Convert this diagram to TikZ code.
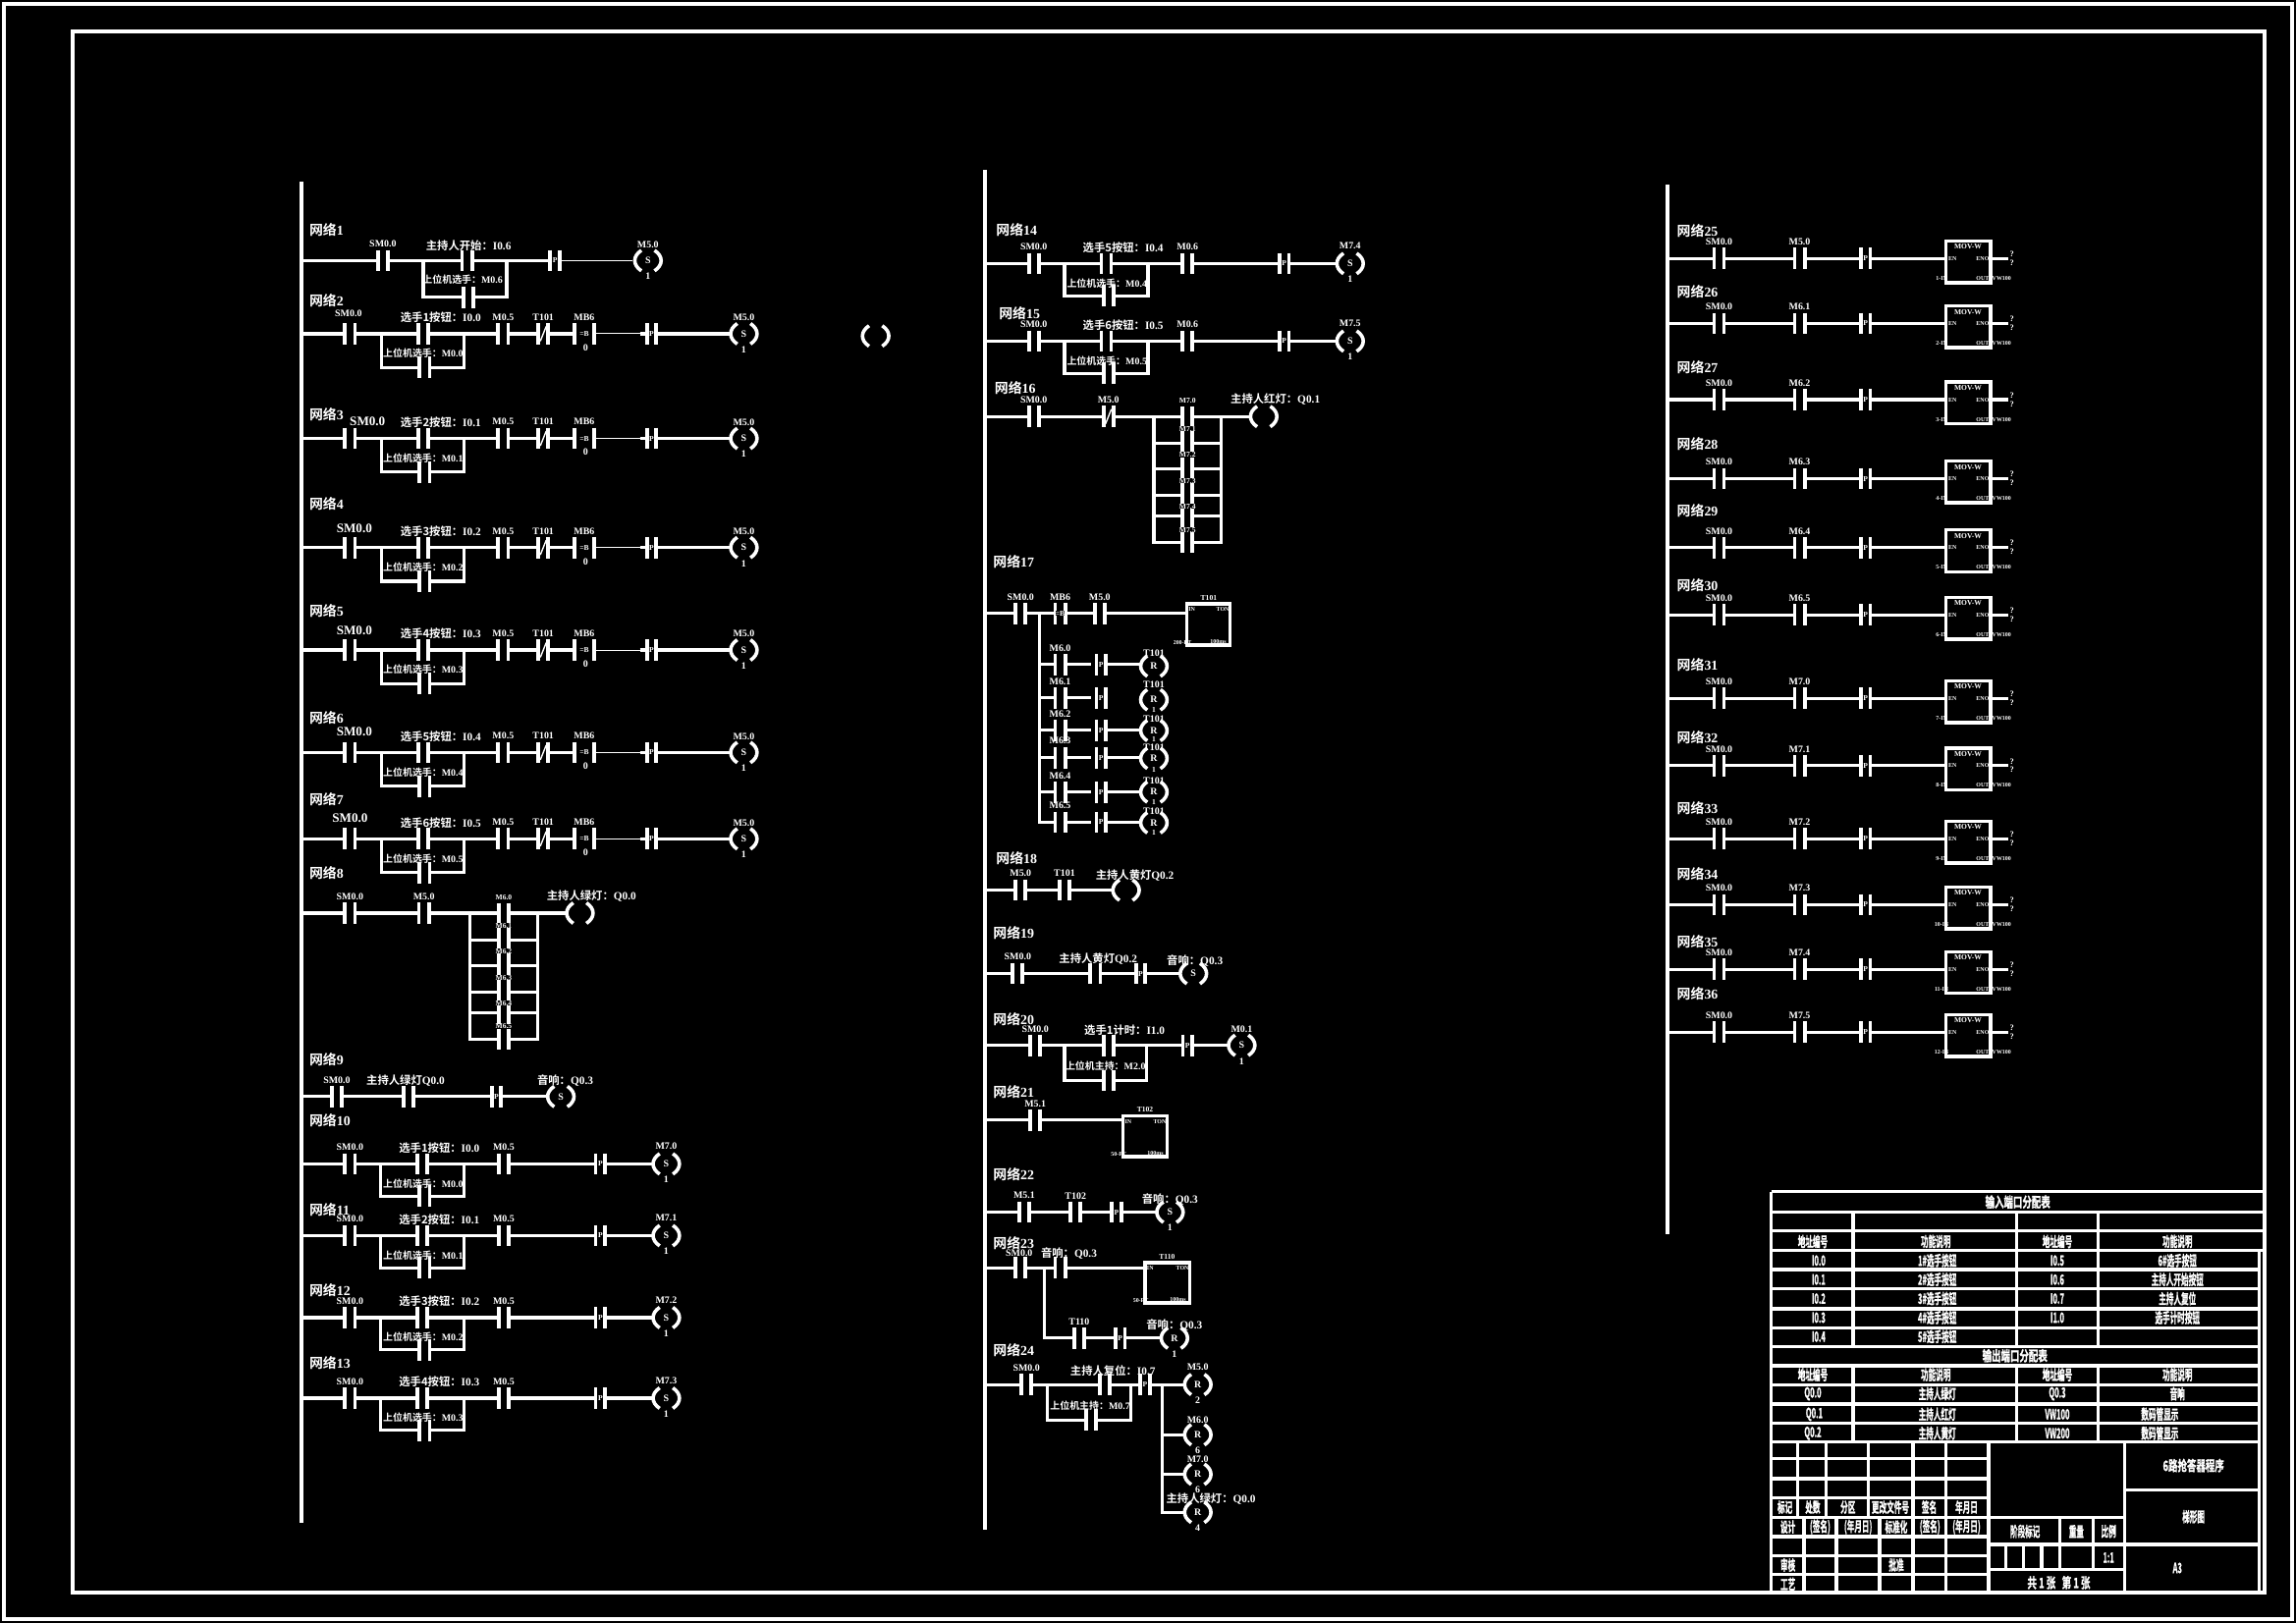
\documentclass[tikz,border=0pt]{standalone}
\usepackage{graphicx}
\usepackage{fontspec}
\setmainfont{Liberation Serif}
\newfontfamily\cjk{Noto Sans CJK SC}[BoldFont=* Bold]
\newfontfamily\tblfont{Noto Sans CJK SC Bold}[FakeBold=1.5]
\usetikzlibrary{calc, positioning}

\newcounter{lblno}
\newcommand{\zh}[1]{{\cjk #1}}
\tikzset{
	railline/.style={white, line width=2pt},
	wire/.style={white, line width=1.6pt},
	thinwire/.style={white, line width=0.5pt},
	bar/.style={white, line width=1.9pt},
	coilarc/.style={white, line width=1.8pt},
	frameline/.style={white, line width=2pt},
	tblline/.style={white, line width=1.7pt},
	lbltext/.style={white, inner sep=0pt, font=\fontsize{5}{6}\bfseries\selectfont},
	toptext/.style={white, inner sep=0pt, font=\fontsize{5.7}{6}\bfseries\selectfont},
	bigtext/.style={white, inner sep=0pt, font=\fontsize{6.6}{8}\bfseries\selectfont},
	titletext/.style={white, inner sep=0pt, anchor=west, font=\fontsize{7}{8}\bfseries\selectfont},
	smalltext/.style={white, fill=black, inner sep=0pt, font=\fontsize{3.8}{4}\bfseries\selectfont},
	tinytext/.style={white, inner sep=0pt, font=\fontsize{3}{3.5}\bfseries\selectfont},
	stacktext/.style={white, inner sep=0pt, align=center, font=\fontsize{4.2}{4.4}\bfseries\selectfont},
	tbltext/.style={white, inner sep=0pt, font=\fontsize{7.2}{8}\selectfont},
}

% text nodes
\newcommand{\lbl}[3]{\stepcounter{lblno}\node[lbltext] (lbl\arabic{lblno}) at (#1,#2) {#3};}
\newcommand{\toplbl}[3]{\stepcounter{lblno}\node[toptext] (lbl\arabic{lblno}) at (#1,#2) {#3};}
\newcommand{\biglbl}[3]{\stepcounter{lblno}\node[bigtext] (lbl\arabic{lblno}) at (#1,#2) {#3};}
\newcommand{\tinylbl}[3]{\stepcounter{lblno}\node[tinytext] (lbl\arabic{lblno}) at (#1,#2) {#3};}
\newcommand{\smalllbl}[3]{\stepcounter{lblno}\node[smalltext] (lbl\arabic{lblno}) at (#1,#2) {#3};}
\newcommand{\nettitle}[3]{\stepcounter{lblno}\node[titletext] (net#3) at (#1,#2) {\zh{网络}#3};}
\newcommand{\tbl}[3]{\stepcounter{lblno}\node[tbltext] (lbl\arabic{lblno}) at (#1,#2) {\tblfont\scalebox{0.53}[1]{#3}};}
\newcommand{\tblw}[3]{\stepcounter{lblno}\node[tbltext] (lbl\arabic{lblno}) at (#1,#2) {\tblfont\scalebox{0.66}[1]{#3}};}

% contacts, drawn after the wires
\newcommand{\bars}[3]{%
	\fill[black] (#1-#3,#2-1.5) rectangle (#1+#3,#2+1.5);
	\draw[bar] (#1-#3,#2-7.3) -- (#1-#3,#2+7.3);
	\draw[bar] (#1+#3,#2-7.3) -- (#1+#3,#2+7.3);}
\newcommand{\ct}[3]{\bars{#1}{#2}{3.4}\lbl{#1}{#2-11.3}{#3}}
\newcommand{\ctn}[2]{\bars{#1}{#2}{3.4}}
\newcommand{\pct}[2]{\bars{#1}{#2}{3.2}\smalllbl{#1}{#2}{P}}
\newcommand{\slct}[3]{\bars{#1}{#2}{3.4}\draw[white, line width=0.7pt] (#1-2,#2+5) -- (#1+2,#2-5);\lbl{#1}{#2-11.3}{#3}}
\newcommand{\eqct}[4]{\bars{#1}{#2}{#3}\smalllbl{#1}{#2}{=B}\lbl{#1}{#2-11.3}{#4}}

% coil: x, y, letter, count
\newcommand{\coil}[4]{%
	\stepcounter{lblno}
	\fill[black] (#1-8,#2-2) rectangle (#1+8,#2+2);
	\draw[coilarc] (#1-4.5,#2-7) .. controls (#1-10.5,#2-3) and (#1-10.5,#2+3) .. (#1-4.5,#2+7);
	\draw[coilarc] (#1+4.5,#2-7) .. controls (#1+10.5,#2-3) and (#1+10.5,#2+3) .. (#1+4.5,#2+7);
	\node[lbltext] (lbl\arabic{lblno}) at (#1,#2) {#3};
	\lbl{#1}{#2+10.8}{#4}}

% network 2 to 7: y, top text, low text
\newcommand{\selnetA}[3]{%
	\draw[wire] (206,#1) -- (392,#1);
	\draw[thinwire] (392,#1) -- (437,#1);
	\draw[wire] (437,#1) -- (498,#1);
	\draw[wire] (260.5,#1) -- (260.5,#1+23) -- (317,#1+23) -- (317,#1);
	\ctn{239}{#1}
	\ctn{289}{#1}
	\ctn{290}{#1+23}
	\toplbl{301}{#1-11}{#2}
	\lbl{289}{#1+13.5}{#3}
	\ct{343.6}{#1}{M0.5}
	\slct{371}{#1}{T101}
	\eqct{399}{#1}{6.5}{MB6}
	\lbl{400}{#1+9.5}{0}
	\pct{445}{#1}
	\coil{508}{#1}{S}{1}
	\lbl{508}{#1-11}{M5.0}}

% network 10 to 15: dx, y, top text, low text, middle contact, coil label
\newcommand{\selnetB}[6]{%
	\draw[wire] (206+#1,#2) -- (446+#1,#2);
	\draw[wire] (260+#1,#2) -- (260+#1,#2+22) -- (317+#1,#2+22) -- (317+#1,#2);
	\ct{239+#1}{#2}{SM0.0}
	\ctn{288.5+#1}{#2}
	\ctn{290+#1}{#2+22}
	\toplbl{300+#1}{#2-11}{#3}
	\lbl{289+#1}{#2+13.5}{#4}
	\ct{344+#1}{#2}{#5}
	\pct{410+#1}{#2}
	\coil{455+#1}{#2}{S}{1}
	\lbl{455+#1}{#2-12}{#6}}

% network 8 and 16: dx, y, rows prefix, coil text
\newcommand{\ladder}[4]{%
	\draw[wire] (206+#1,#2) -- (387+#1,#2);
	\draw[wire] (321+#1,#2) -- (321+#1,#2+86) -- (340.6+#1,#2+86);
	\draw[wire] (367+#1,#2) -- (367+#1,#2+86) -- (347.4+#1,#2+86);
	\foreach \rowy in {18.5,36,54,68} {
		\draw[wire] (321+#1,#2+\rowy) -- (340.6+#1,#2+\rowy);
		\draw[wire] (367+#1,#2+\rowy) -- (347.4+#1,#2+\rowy);
	}
	\ct{239+#1}{#2}{SM0.0}
	\fill[black] (340.6+#1,#2-1.5) rectangle (347.4+#1,#2+1.5);
	\draw[bar] (340.6+#1,#2-7) -- (340.6+#1,#2+93);
	\draw[bar] (347.4+#1,#2-7) -- (347.4+#1,#2+93);
	\smalllbl{344+#1}{#2-11}{#3.0}
	\smalllbl{344+#1}{#2+8.5}{#3.1}
	\smalllbl{344+#1}{#2+26}{#3.2}
	\smalllbl{344+#1}{#2+44}{#3.3}
	\smalllbl{344+#1}{#2+61.5}{#3.4}
	\smalllbl{344+#1}{#2+77.5}{#3.5}
	\coil{396+#1}{#2}{}{}
	\toplbl{404+#1}{#2-11.5}{#4}}

% timer box: left, top, right, bottom, name, preset
\newcommand{\tonbox}[6]{%
	\draw[tblline, fill=black] (#1,#2) rectangle (#3,#4);
	\tinylbl{#1+3.5}{#2+4}{IN}
	\tinylbl{#3-5}{#2+4}{TON}
	\tinylbl{#1-3}{#4-1.5}{#6}
	\tinylbl{#3-8}{#4-2.5}{100ms}
	\smalllbl{#1+15}{#2-4}{#5}}

% network 25 to 36: y, contact, number
\newcommand{\movnet}[3]{%
	\draw[wire] (1139,#1) -- (1329,#1);
	\ct{1174}{#1}{SM0.0}
	\ct{1229}{#1}{#2}
	\pct{1274}{#1}
	\draw[tblline, fill=black] (1329,#1-12) rectangle (1359.5,#1+16.5);
	\smalllbl{1344}{#1-8}{MOV-W}
	\tinylbl{1333.5}{#1}{EN}
	\tinylbl{1354}{#1}{ENO}
	\tinylbl{1326}{#1+13.5}{#3-IN}
	\tinylbl{1354}{#1+13.5}{OUT}
	\tinylbl{1367}{#1+13.5}{VW100}
	\draw[wire] (1359.5,#1) -- (1371.5,#1);
	\stepcounter{lblno}
	\node[stacktext] (lbl\arabic{lblno}) at (1374,#1) {?\\?};}

\begin{document}
\begin{tikzpicture}[x=0.75pt,y=0.75pt,yscale=-1,xscale=1]
	\useasboundingbox (0,0) rectangle (1568,1108.6);
	\fill[black] (0,0) rectangle (1568,1108.6);

	% frames
	\draw[frameline] (2.8,2.8) rectangle (1565.3,1105.8);
	\draw[frameline] (49.6,21.5) rectangle (1546.5,1087.5);

	% power rails
	\draw[railline] (206,124) -- (206,1040);
	\draw[railline] (672.5,116) -- (672.5,1045);
	\draw[railline] (1139,126) -- (1139,843);

	% network 1
	\nettitle{211}{157}{1}
	\draw[wire] (206,178) -- (376,178);
	\draw[thinwire] (376,178) -- (432,178);
	\draw[wire] (289,178) -- (289,203) -- (346,203) -- (346,178);
	\ct{261.5}{178}{SM0.0}
	\ctn{319}{178}
	\toplbl{320}{168}{\zh{主持人开始：}I0.6}
	\ctn{320}{203}
	\lbl{316}{191}{\zh{上位机选手：}M0.6}
	\pct{379}{178}
	\coil{442.5}{178}{S}{1}
	\lbl{442.5}{167}{M5.0}

	% network 2 to 7
	\nettitle{211}{205}{2}
	\selnetA{228}{\zh{选手1按钮：}I0.0}{\zh{上位机选手：}M0.0}
	\lbl{238}{214}{SM0.0}
	\nettitle{211}{283}{3}
	\selnetA{299.5}{\zh{选手2按钮：}I0.1}{\zh{上位机选手：}M0.1}
	\biglbl{251}{288}{SM0.0}
	\nettitle{211}{344}{4}
	\selnetA{374}{\zh{选手3按钮：}I0.2}{\zh{上位机选手：}M0.2}
	\biglbl{242}{361}{SM0.0}
	\nettitle{211}{417}{5}
	\selnetA{444}{\zh{选手4按钮：}I0.3}{\zh{上位机选手：}M0.3}
	\biglbl{242}{431}{SM0.0}
	\nettitle{211}{490}{6}
	\selnetA{514}{\zh{选手5按钮：}I0.4}{\zh{上位机选手：}M0.4}
	\biglbl{242}{500}{SM0.0}
	\nettitle{211}{546}{7}
	\selnetA{573}{\zh{选手6按钮：}I0.5}{\zh{上位机选手：}M0.5}
	\biglbl{239}{559}{SM0.0}

	% lone coil
	\coil{598}{229.5}{}{}

	% network 8
	\nettitle{211}{596}{8}
	\ladder{0}{623.7}{M6}{\zh{主持人绿灯：}Q0.0}
	\ct{289.5}{623.7}{M5.0}

	% network 9
	\nettitle{211}{724}{9}
	\draw[wire] (206,749) -- (374,749);
	\ct{230}{749}{SM0.0}
	\ctn{279}{749}
	\toplbl{277}{738}{\zh{主持人绿灯}Q0.0}
	\pct{339}{749}
	\coil{383}{749}{S}{}
	\toplbl{386}{738}{\zh{音响：}Q0.3}

	% network 10 to 13
	\nettitle{211}{765}{10}
	\selnetB{0}{795}{\zh{选手1按钮：}I0.0}{\zh{上位机选手：}M0.0}{M0.5}{M7.0}
	\nettitle{211}{826}{11}
	\selnetB{0}{844}{\zh{选手2按钮：}I0.1}{\zh{上位机选手：}M0.1}{M0.5}{M7.1}
	\nettitle{211}{881}{12}
	\selnetB{0}{900}{\zh{选手3按钮：}I0.2}{\zh{上位机选手：}M0.2}{M0.5}{M7.2}
	\nettitle{211}{931}{13}
	\selnetB{0}{955}{\zh{选手4按钮：}I0.3}{\zh{上位机选手：}M0.3}{M0.5}{M7.3}

	% network 14 and 15
	\nettitle{680}{157}{14}
	\selnetB{467}{180}{\zh{选手5按钮：}I0.4}{\zh{上位机选手：}M0.4}{M0.6}{M7.4}
	\nettitle{682}{214}{15}
	\selnetB{467}{233}{\zh{选手6按钮：}I0.5}{\zh{上位机选手：}M0.5}{M0.6}{M7.5}

	% network 16
	\nettitle{679}{265}{16}
	\ladder{467}{284.5}{M7}{\zh{主持人红灯：}Q0.1}
	\slct{757}{284.5}{M5.0}

	% network 17
	\nettitle{678}{384}{17}
	\draw[wire] (672.5,419) -- (810,419);
	\draw[wire] (710,419) -- (710,561.6) -- (720,561.6);
	\ct{697}{419}{SM0.0}
	\eqct{724}{419}{3.4}{MB6}
	\ct{751}{419}{M5.0}
	\tonbox{810.5}{412.5}{840}{440.5}{T101}{200-PT}
	\foreach \rowy/\rowno in {453.8/0,476.6/1,498.8/2,517.5/3,541/4,561.6/5} {
		\draw[wire] (710,\rowy) -- (745,\rowy);
		\ct{724}{\rowy}{M6.\rowno}
		\pct{752}{\rowy}
	}
	\foreach \rowy in {453.8,498.8,517.5,541,561.6} {
		\draw[wire] (755,\rowy) -- (780,\rowy);
	}
	\coil{788}{455}{R}{}
	\foreach \rowy/\county in {478/485,499/505,518/526,541/548,562/569} {
		\coil{788}{\rowy}{R}{}
		\smalllbl{788}{\county}{1}
	}
	\foreach \rowy in {446,467.8,490.8,510.5,533.5,554} {
		\lbl{788}{\rowy}{T101}
	}

	% network 18
	\nettitle{680}{586}{18}
	\draw[wire] (672.5,608) -- (761,608);
	\ct{697}{608}{M5.0}
	\ct{727}{608}{T101}
	\coil{769}{608}{}{}
	\toplbl{775}{598}{\zh{主持人黄灯}Q0.2}

	% network 19
	\nettitle{678}{637}{19}
	\draw[wire] (672.5,665) -- (806,665);
	\ct{695}{665}{SM0.0}
	\ctn{748}{665}
	\toplbl{750}{655}{\zh{主持人黄灯}Q0.2}
	\pct{779}{665}
	\coil{815}{665}{S}{}
	\toplbl{816}{656}{\zh{音响：}Q0.3}

	% network 20
	\nettitle{678}{696}{20}
	\draw[wire] (672.5,714) -- (839,714);
	\draw[wire] (727,714) -- (727,738) -- (783,738) -- (783,714);
	\ct{707}{714}{SM0.0}
	\ctn{757}{714}
	\toplbl{768}{704}{\zh{选手1计时：}I1.0}
	\ctn{757}{738}
	\lbl{755}{728}{\zh{上位机主持：}M2.0}
	\pct{811}{714}
	\coil{848}{714}{S}{1}
	\lbl{848}{703}{M0.1}

	% network 21
	\nettitle{678}{746}{21}
	\draw[wire] (672.5,765) -- (767,765);
	\ct{707}{765}{M5.1}
	\tonbox{767}{762}{797}{790}{T102}{50-PT}

	% network 22
	\nettitle{678}{802}{22}
	\draw[wire] (672.5,828) -- (790,828);
	\ct{699.5}{828}{M5.1}
	\ct{734.5}{828}{T102}
	\pct{762.5}{828}
	\coil{799}{828}{S}{1}
	\toplbl{799}{819}{\zh{音响：}Q0.3}

	% network 23
	\nettitle{678}{849}{23}
	\draw[wire] (672.5,866) -- (782,866);
	\draw[wire] (713,866) -- (713,914) -- (793,914);
	\ctn{697}{866}
	\lbl{696}{856}{SM0.0}
	\ctn{724}{866}
	\toplbl{730}{856}{\zh{音响：}Q0.3}
	\tonbox{782}{862.5}{812.5}{890}{T110}{50-PT}
	\ct{737}{914}{T110}
	\pct{765}{914}
	\coil{802}{914}{R}{1}
	\toplbl{802}{905}{\zh{音响：}Q0.3}

	% network 24
	\nettitle{678}{922}{24}
	\draw[wire] (672.5,945.7) -- (809,945.7);
	\draw[wire] (715,945.7) -- (715,970) -- (772.5,970) -- (772.5,945.7);
	\draw[wire] (793.5,945.7) -- (793.5,1033) -- (809,1033);
	\draw[wire] (793.5,980) -- (809,980);
	\draw[wire] (793.5,1007) -- (809,1007);
	\ct{701}{945.7}{SM0.0}
	\ctn{754.5}{945.7}
	\toplbl{760}{936}{\zh{主持人复位：}I0.7}
	\pct{782}{945.7}
	\ctn{745}{970}
	\lbl{744.5}{960}{\zh{上位机主持：}M0.7}
	\coil{818}{945.7}{R}{2}
	\lbl{818}{934}{M5.0}
	\coil{818}{980}{R}{6}
	\lbl{818}{970}{M6.0}
	\coil{818}{1007}{R}{6}
	\lbl{818}{997}{M7.0}
	\coil{818}{1033}{R}{4}
	\toplbl{827}{1024}{\zh{主持人绿灯：}Q0.0}

	% network 25 to 36
	\foreach \numy/\netno in {158/25,199/26,251/27,303/28,349/29,400/30,454/31,504/32,552/33,597/34,643/35,679/36} {
		\nettitle{1145}{\numy}{\netno}
	}
	\movnet{176.6}{M5.0}{1}
	\movnet{221}{M6.1}{2}
	\movnet{273}{M6.2}{3}
	\movnet{327}{M6.3}{4}
	\movnet{374}{M6.4}{5}
	\movnet{420}{M6.5}{6}
	\movnet{477}{M7.0}{7}
	\movnet{523}{M7.1}{8}
	\movnet{573}{M7.2}{9}
	\movnet{618}{M7.3}{10}
	\movnet{662}{M7.4}{11}
	\movnet{705}{M7.5}{12}

	% table, port lists
	\draw[tblline] (1209.6,814) -- (1546.5,814);
	\draw[tblline] (1209.6,814) -- (1209.6,1088);
	\draw[tblline] (1542.8,854.2) -- (1542.8,1088);
	\foreach \rowy in {828,840.6,854.2} {
		\draw[tblline] (1209.6,\rowy) -- (1546.5,\rowy);
	}
	\foreach \rowy in {867.2,880.3,894,906.9,919.8,932.9,945.8,959,972,985} {
		\draw[tblline] (1209.6,\rowy) -- (1542.8,\rowy);
	}
	\foreach \colx in {1265.6,1377,1432.7} {
		\draw[tblline] (\colx,828) -- (\colx,919.8);
		\draw[tblline] (\colx,932.9) -- (\colx,985);
	}
	\tblw{1378}{821}{输入端口分配表}
	\tbl{1238}{848}{地址编号}
	\tbl{1322}{848}{功能说明}
	\tbl{1405}{848}{地址编号}
	\tbl{1487}{848}{功能说明}
	\foreach \rowy/\ina/\txa/\inb/\txb in {861/I0.0/1\#选手按钮/I0.5/6\#选手按钮,874/I0.1/2\#选手按钮/I0.6/主持人开始按钮,887/I0.2/3\#选手按钮/I0.7/主持人复位,900/I0.3/4\#选手按钮/I1.0/选手计时按钮} {
		\tbl{1242}{\rowy}{\ina}
		\tbl{1323}{\rowy}{\txa}
		\tbl{1405}{\rowy}{\inb}
		\tbl{1487}{\rowy}{\txb}
	}
	\tbl{1242}{913}{I0.4}
	\tbl{1323}{913}{5\#选手按钮}
	\tblw{1376}{926}{输出端口分配表}
	\tbl{1238}{939}{地址编号}
	\tbl{1322}{939}{功能说明}
	\tbl{1405}{939}{地址编号}
	\tbl{1487}{939}{功能说明}
	\tbl{1238}{952}{Q0.0}
	\tbl{1323}{952}{主持人绿灯}
	\tbl{1405}{952}{Q0.3}
	\tbl{1487}{952}{音响}
	\tbl{1239}{966}{Q0.1}
	\tbl{1323}{966}{主持人红灯}
	\tbl{1405}{966}{VW100}
	\tbl{1475}{966}{数码管显示}
	\tbl{1238}{979}{Q0.2}
	\tbl{1323}{979}{主持人黄灯}
	\tbl{1405}{979}{VW200}
	\tbl{1475}{979}{数码管显示}

	% table, title block
	\foreach \rowy in {996.3,1009.9,1022.9} {
		\draw[tblline] (1209.6,\rowy) -- (1358,\rowy);
	}
	\draw[tblline] (1209.6,1036.4) -- (1451,1036.4);
	\foreach \rowy in {1049.6,1062.8,1075.6} {
		\draw[tblline] (1209.6,\rowy) -- (1358,\rowy);
	}
	\foreach \colx in {1227.8,1247,1276,1306.4,1328.7} {
		\draw[tblline] (\colx,985) -- (\colx,1036.4);
	}
	\foreach \colx in {1232,1254,1283.6,1306.4,1328.7} {
		\draw[tblline] (\colx,1036.4) -- (\colx,1088);
	}
	\draw[tblline] (1358,985) -- (1358,1088);
	\draw[tblline] (1451,985) -- (1451,1088);
	\draw[tblline] (1358,1055) -- (1542.8,1055);
	\draw[tblline] (1358,1072) -- (1451,1072);
	\draw[tblline] (1451,1017.6) -- (1542.8,1017.6);
	\foreach \colx in {1406.6,1429.5} {
		\draw[tblline] (\colx,1036.4) -- (\colx,1072);
	}
	\foreach \colx in {1370,1382,1394.4} {
		\draw[tblline] (\colx,1055) -- (\colx,1072);
	}
	\tbl{1219}{1029.5}{标记}
	\tbl{1238}{1029.5}{处数}
	\tbl{1262}{1029.5}{分区}
	\tbl{1291}{1029.5}{更改文件号}
	\tbl{1317.5}{1029.5}{签名}
	\tbl{1343}{1029.5}{年月日}
	\tbl{1221}{1043}{设计}
	\tbl{1243}{1043}{(签名)}
	\tbl{1269}{1043}{(年月日)}
	\tbl{1295}{1043}{标准化}
	\tbl{1318}{1043}{(签名)}
	\tbl{1343}{1043}{(年月日)}
	\tbl{1221}{1069}{审核}
	\tbl{1295}{1069}{批准}
	\tbl{1221}{1082}{工艺}
	\tbl{1383}{1046}{阶段标记}
	\tbl{1418}{1046}{重量}
	\tbl{1440}{1046}{比例}
	\tbl{1440}{1064}{1:1}
	\tblw{1406}{1081}{共 1 张 \ \ 第 1 张}
	\tblw{1498}{1001}{6路抢答器程序}
	\tbl{1498}{1036}{梯形图}
	\tbl{1487}{1071}{A3}
\end{tikzpicture}
\end{document}
